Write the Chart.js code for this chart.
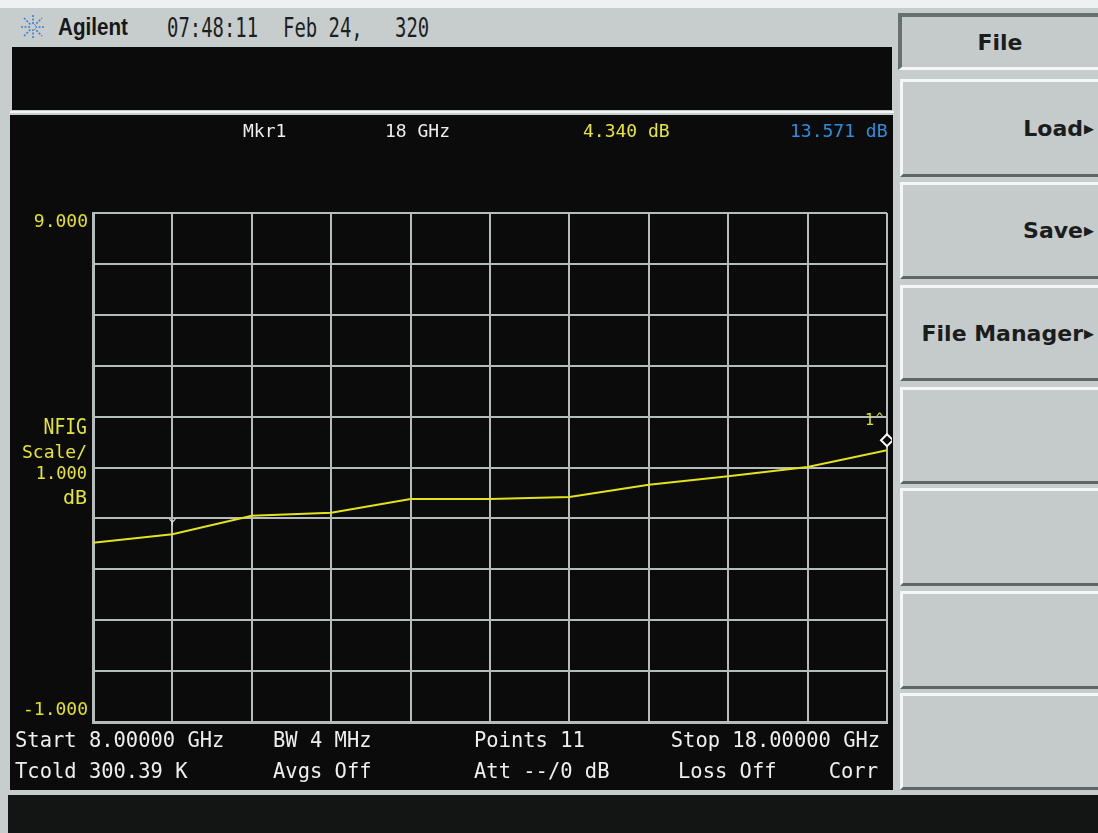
<!DOCTYPE html>
<html>
<head>
<meta charset="utf-8">
<script src="https://cdn.jsdelivr.net/npm/chart.js@4.4.1/dist/chart.umd.min.js"></script>
<style>
html, body { margin: 0; padding: 0; width: 1098px; height: 833px; overflow: hidden; background: #c7cdcd; }
.abs { position: absolute; }
.mono { font-family: "DejaVu Sans Mono", monospace; white-space: pre; line-height: 1; transform: translateY(-50%); }
.ft { font-size: 22px; transform: translateY(-50%) scaleX(0.93); transform-origin: left center; }
.ftr { font-size: 22px; transform: translateY(-50%) scaleX(0.93); transform-origin: right center; }
.hd { font-size: 27px; color: #1c1f1f; transform: translateY(-50%) scaleX(0.7); transform-origin: left center; }
.key { position: absolute; left: 900px; width: 198px; box-sizing: border-box; background: #c5cbcb;
       border-top: 3px solid #f5f7f7; border-left: 3px solid #f5f7f7; border-bottom: 3px solid #5e6565;
       font: bold 22px "DejaVu Sans", sans-serif; color: #1b1d1d; text-align: right; padding-right: 4px;
       display: flex; align-items: center; justify-content: flex-end; white-space: nowrap; }
.tri { font-size: 13px; margin-left: 1px; }
.yel { color: #e6e632; }
.wht { color: #eeeeee; }
</style>
</head>
<body>
<div class="abs" style="left:0;top:0;width:1098px;height:8px;background:#eef1f1"></div>

<!-- logo + header -->
<svg class="abs" style="left:19px;top:13px" width="28" height="28" viewBox="-14 -14 28 28">
  <g stroke="#3c7fd0" stroke-width="1.6" stroke-dasharray="2 1.5">
    <line x1="0" y1="-12" x2="0" y2="12"/><line x1="-12" y1="0" x2="12" y2="0"/>
    <line x1="-9" y1="-9" x2="9" y2="9"/><line x1="-9" y1="9" x2="9" y2="-9"/>
  </g>
  <circle r="2.5" fill="#c7cdcd"/>
</svg>
<div class="abs" style="left:58px;top:27px;font:bold 24px 'Liberation Sans',sans-serif;color:#151818;transform:translateY(-50%) scaleX(0.86);transform-origin:left center;line-height:1">Agilent</div>
<div class="abs mono hd" style="left:167px;top:27px">07:48:11</div>
<div class="abs mono hd" style="left:283px;top:27px">Feb 24,</div>
<div class="abs mono hd" style="left:395px;top:27px">320</div>

<div class="abs" style="left:12px;top:47px;width:880px;height:63px;background:#0b0b0b"></div>
<div class="abs" style="left:10px;top:111px;width:884px;height:2px;background:#f3f5f5"></div>
<div class="abs" style="left:10px;top:115px;width:883px;height:675px;background:#0b0b0b"></div>
<canvas id="nfa" class="abs" style="left:12px;top:115px" width="880" height="675"></canvas>

<!-- marker readout -->
<div class="abs mono wht" style="left:243px;top:131px;font-size:18px">Mkr1</div>
<div class="abs mono wht" style="left:385px;top:131px;font-size:18px">18 GHz</div>
<div class="abs mono yel" style="left:583px;top:131px;font-size:18px">4.340 dB</div>
<div class="abs mono" style="left:790px;top:131px;font-size:18px;color:#2b8fe0">13.571 dB</div>

<!-- axis annotation -->
<div class="abs yel" style="right:1011px;top:416px;font:22px 'DejaVu Sans Mono',monospace;line-height:1;transform:scaleX(0.82);transform-origin:right center">NFIG</div>
<div class="abs yel" style="right:1011px;top:443px;font:18px 'DejaVu Sans Mono',monospace;line-height:1">Scale/</div>
<div class="abs yel" style="right:1011px;top:465px;font:17px 'DejaVu Sans Mono',monospace;line-height:1">1.000</div>
<div class="abs yel" style="right:1011px;top:487px;font:20px 'DejaVu Sans Mono',monospace;line-height:1">dB</div>

<!-- footer settings -->
<div class="abs mono wht ft" style="left:15px;top:740px">Start 8.00000 GHz</div>
<div class="abs mono wht ft" style="left:273px;top:740px">BW 4 MHz</div>
<div class="abs mono wht ft" style="left:474px;top:740px">Points 11</div>
<div class="abs mono wht ftr" style="right:218px;top:740px">Stop 18.00000 GHz</div>
<div class="abs mono wht ft" style="left:15px;top:771px">Tcold 300.39 K</div>
<div class="abs mono wht ft" style="left:273px;top:771px">Avgs Off</div>
<div class="abs mono wht ft" style="left:474px;top:771px">Att --/0 dB</div>
<div class="abs mono wht ft" style="left:678px;top:771px">Loss Off</div>
<div class="abs mono wht ftr" style="right:220px;top:771px">Corr</div>

<!-- softkeys -->
<div class="abs" style="left:898px;top:13px;width:200px;height:57px;box-sizing:border-box;background:#c5cbcb;border-top:4px solid #667070;border-left:4px solid #667070;border-bottom:3px solid #f5f7f7;font:bold 22px 'DejaVu Sans',sans-serif;color:#1b1d1d;display:flex;align-items:center;justify-content:center">File</div>
<div class="key" style="top:79px;height:98px">Load<span class="tri">&#9654;</span></div>
<div class="key" style="top:182px;height:97px">Save<span class="tri">&#9654;</span></div>
<div class="key" style="top:285px;height:96px">File Manager<span class="tri">&#9654;</span></div>
<div class="key" style="top:387px;height:97px"></div>
<div class="key" style="top:488px;height:98px"></div>
<div class="key" style="top:591px;height:98px"></div>
<div class="key" style="top:693px;height:97px"></div>

<div class="abs" style="left:8px;top:795px;width:1090px;height:38px;background:#131414"></div>

<script>
// sweep 8-18 GHz, 11 points
const freqGHz = [8, 9, 10, 11, 12, 13, 14, 15, 16, 17, 18];
const nfigDb = [2.52, 2.69, 3.05, 3.11, 3.38, 3.38, 3.42, 3.66, 3.83, 4.01, 4.34];
const yRange = [-1, 9];          // ref level 9 dB, 1 dB/div
const xRange = [8, 18];
const marker1 = { freq: 18, db: 4.34 };
const marker2Freq = 9;            // little tick marker above the trace

const GRID = '#b4bcbc';
const YEL = '#e2e21e';

// markers drawn on top of the trace
const markerPlugin = {
    id: 'nfaMarkers',
    afterDatasetsDraw(chart) {
        const { ctx, scales: { x, y } } = chart;
        const px = x.getPixelForValue(marker1.freq);
        const py = y.getPixelForValue(marker1.db);
        ctx.save();
        // diamond
        ctx.beginPath();
        ctx.moveTo(px, py - 16);
        ctx.lineTo(px + 6, py - 10);
        ctx.lineTo(px, py - 4);
        ctx.lineTo(px - 6, py - 10);
        ctx.closePath();
        ctx.fillStyle = '#0b0b0b';
        ctx.fill();
        ctx.strokeStyle = '#ffffff';
        ctx.lineWidth = 2;
        ctx.stroke();
        // label
        ctx.fillStyle = YEL;
        ctx.font = '15px "DejaVu Sans Mono", monospace';
        ctx.textBaseline = 'middle';
        ctx.textAlign = 'left';
        ctx.fillText('1', px - 22, py - 29);
        ctx.font = '12px "DejaVu Sans Mono", monospace';
        ctx.fillText('^', px - 11, py - 31);

        // second marker tick
        const qx = x.getPixelForValue(marker2Freq);
        const qy = y.getPixelForValue(nfigDb[freqGHz.indexOf(marker2Freq)]);
        ctx.strokeStyle = '#dddddd';
        ctx.lineWidth = 1.2;
        ctx.beginPath();
        ctx.moveTo(qx - 3, qy - 15); ctx.lineTo(qx, qy - 12); ctx.lineTo(qx + 3, qy - 15);
        ctx.moveTo(qx, qy - 12); ctx.lineTo(qx, qy - 9);
        ctx.stroke();
        ctx.restore();
    }
};

new Chart(document.getElementById('nfa'), {
    type: 'line',
    data: {
        datasets: [{
            data: freqGHz.map((f, i) => ({ x: f, y: nfigDb[i] })),
            borderColor: YEL,
            borderWidth: 2,
            pointRadius: 0,
            tension: 0,
            fill: false
        }]
    },
    options: {
        responsive: false,
        animation: false,
        events: [],
        layout: { padding: { left: 0, right: 5, top: 98, bottom: 68 } },
        plugins: { legend: { display: false }, tooltip: { enabled: false } },
        scales: {
            x: {
                type: 'linear', min: xRange[0], max: xRange[1],
                ticks: { stepSize: 1, display: false },
                grid: { color: GRID, lineWidth: 2, drawTicks: false },
                border: { display: true, color: GRID, width: 3 },
                afterFit(s) { s.height = 0; }
            },
            y: {
                min: yRange[0], max: yRange[1],
                ticks: {
                    stepSize: 1,
                    autoSkip: false,
                    padding: 5,
                    color: YEL,
                    // only the top and bottom graticule lines are labelled, pulled inside the frame
                    callback(v) {
                        if (v === yRange[1]) return ['', v.toFixed(3)];
                        if (v === yRange[0]) return [v.toFixed(3), ''];
                        return '';
                    },
                    font(c) {
                        const top = c.tick && c.tick.value === yRange[1];
                        return { family: '"DejaVu Sans Mono", monospace', size: 18, lineHeight: top ? '18px' : '24px' };
                    }
                },
                grid: { color: GRID, lineWidth: 2, drawTicks: false },
                border: { display: true, color: GRID, width: 3 },
                afterFit(s) { s.width = 81; }
            }
        }
    },
    plugins: [markerPlugin]
});
</script>
</body>
</html>
